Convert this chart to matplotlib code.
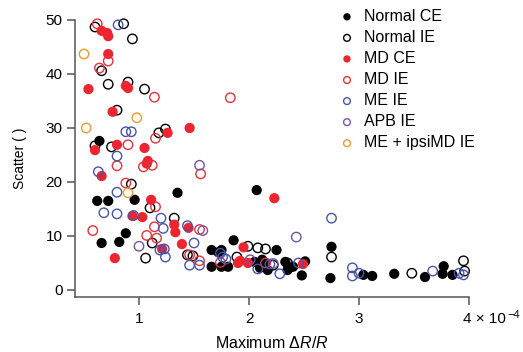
import numpy as np
import matplotlib
matplotlib.use('Agg')
import matplotlib.pyplot as plt
from matplotlib.transforms import blended_transform_factory, offset_copy

plt.rcParams['font.family'] = ['Liberation Sans', 'DejaVu Sans']
plt.rcParams['mathtext.fontset'] = 'custom'
plt.rcParams['mathtext.rm'] = 'Liberation Sans'
plt.rcParams['mathtext.it'] = 'Liberation Sans:italic'
plt.rcParams['font.size'] = 11

# data (x in units of 1e-4)
normal_ce_x = [0.64, 0.62, 0.72, 0.96, 1.35, 0.88, 0.66, 0.82, 2.07, 1.86, 2.25, 1.66, 1.72, 1.75,
               1.66, 1.75, 1.81, 2.05, 2.12, 2.15, 2.17, 2.10, 2.33, 2.35, 2.40, 2.48, 2.51,
               2.75, 2.74, 3.04, 3.12, 3.32, 3.60, 3.77, 3.76, 3.85]
normal_ce_y = [27.6, 16.5, 16.5, 16.7, 18.0, 10.5, 8.7, 8.9, 18.5, 9.2, 7.4, 7.4, 7.0, 7.4,
               4.3, 4.3, 4.3, 5.2, 5.6, 5.0, 3.7, 4.1, 5.2, 3.7, 4.3, 2.7, 5.3,
               8.0, 2.2, 2.8, 2.6, 3.0, 2.4, 4.4, 3.0, 2.8]

normal_ie_x = [0.60, 0.86, 0.94, 0.66, 0.72, 0.90, 1.05, 0.80, 1.18, 1.24, 0.60, 0.75, 0.93,
               1.10, 1.32, 1.12, 1.06, 1.44, 1.49, 1.99, 2.08, 2.15, 1.89, 2.22, 2.35, 2.75,
               3.48, 3.95, 3.96]
normal_ie_y = [48.7, 49.3, 46.5, 40.6, 38.1, 38.5, 37.2, 33.3, 29.1, 29.8, 26.7, 26.5, 19.6,
               15.2, 13.3, 8.7, 5.9, 6.5, 6.3, 8.1, 7.8, 7.6, 6.1, 4.6, 5.0, 6.1,
               3.1, 5.4, 3.5]

md_ce_x = [0.66, 0.71, 0.72, 0.72, 0.88, 0.90, 0.54, 0.76, 1.26, 1.46, 0.60, 0.80, 1.05, 1.08,
           1.07, 0.66, 1.11, 0.94, 1.03, 1.32, 1.33, 1.45, 1.39, 1.21, 0.78, 2.23, 1.95, 1.90,
           1.92, 1.99, 2.49]
md_ce_y = [48.0, 47.6, 47.0, 43.7, 37.8, 37.4, 37.2, 33.0, 29.1, 30.0, 25.9, 26.9, 26.3, 23.9,
           23.4, 21.1, 16.7, 13.7, 13.5, 12.1, 10.7, 11.5, 8.5, 7.6, 5.9, 17.0, 7.9, 5.0,
           5.4, 5.0, 4.8]

md_ie_x = [0.62, 0.72, 0.64, 1.14, 1.83, 1.15, 0.90, 0.80, 1.04, 1.12, 1.56, 0.88, 1.15, 0.58,
           1.14, 1.55, 1.07, 1.16, 1.46, 1.55, 1.74, 2.15]
md_ie_y = [49.3, 42.4, 41.1, 35.7, 35.6, 28.1, 26.9, 23.0, 22.8, 23.1, 21.5, 19.8, 15.4, 11.0,
           11.7, 11.2, 10.1, 9.6, 6.5, 5.4, 5.1, 5.0]

me_ie_x = [0.81, 0.88, 0.93, 0.80, 0.63, 0.80, 0.68, 0.80, 0.95, 1.20, 1.22, 1.44, 1.50, 1.19,
           1.23, 1.24, 1.46, 1.55, 1.74, 1.76, 1.79, 2.08, 2.19, 2.28, 2.45, 2.75, 2.94,
           2.94, 3.00, 3.67, 3.91, 3.95]
me_ie_y = [49.1, 29.3, 29.3, 24.8, 21.9, 18.1, 14.3, 14.1, 13.8, 13.3, 11.4, 11.9, 8.7, 7.4,
           7.6, 6.1, 4.6, 4.6, 6.8, 6.1, 5.7, 3.9, 4.8, 3.0, 5.0, 13.3, 4.1,
           2.6, 3.1, 3.5, 3.1, 2.8]

apb_ie_x = [1.55, 1.00, 1.58, 2.43, 2.01, 2.22]
apb_ie_y = [23.1, 8.1, 11.0, 9.8, 5.6, 4.9]

ipsi_ie_x = [0.50, 0.52, 0.98, 0.90]
ipsi_ie_y = [43.7, 30.0, 31.9, 18.0]

series = [
    ('Normal CE', normal_ce_x, normal_ce_y, 'black', True),
    ('Normal IE', normal_ie_x, normal_ie_y, 'black', False),
    ('MD CE', md_ce_x, md_ce_y, '#ec2530', True),
    ('MD IE', md_ie_x, md_ie_y, '#e2323c', False),
    ('ME IE', me_ie_x, me_ie_y, '#4556aa', False),
    ('APB IE', apb_ie_x, apb_ie_y, '#7654a2', False),
    ('ME + ipsiMD IE', ipsi_ie_x, ipsi_ie_y, '#ee9a30', False),
]

fig = plt.figure(figsize=(5.23, 3.52), dpi=100)
ax = fig.add_axes([75 / 523, 1 - 297 / 352, (469 - 75) / 523, (297 - 20) / 352])

for label, xs, ys, col, filled in series:
    if filled:
        ax.scatter(xs, ys, s=54, color=col, edgecolors='none', label=label, clip_on=False, zorder=3)
    else:
        ax.scatter(xs, ys, s=46, facecolors='none', edgecolors=col, linewidths=1.0,
                   label=label, clip_on=False, zorder=3)

ax.set_xlim(0.418, 4.0)
ax.set_ylim(-1.3, 50)
for s in ['top', 'right']:
    ax.spines[s].set_visible(False)
for s in ['left', 'bottom']:
    ax.spines[s].set_color('#555555')
    ax.spines[s].set_linewidth(1.1)

ax.set_yticks([0, 10, 20, 30, 40, 50])
ax.set_xticks([1, 2, 3, 4])
ax.set_xticklabels(['1', '2', '3', ''])
ax.tick_params(axis='y', length=6, width=1.1, color='#555555', pad=3, labelsize=11)
ax.tick_params(axis='x', length=6, width=1.1, color='#555555', pad=5, labelsize=11)

# "4 x 10^-4" label at the last tick, built from two plain texts
trans = blended_transform_factory(ax.transData, ax.transAxes)
t4 = ax.text(4, 0, '4 × 10', transform=offset_copy(trans, fig=fig, x=-4, y=-10.5, units='points'),
             ha='left', va='top', fontsize=11)
fig.canvas.draw()
bb = t4.get_window_extent()
fig.text(bb.x1 / fig.bbox.width + 0.002, bb.y1 / fig.bbox.height + 0.004, '−4',
         ha='left', va='top', fontsize=8)

ax.set_ylabel('Scatter ( )', fontsize=10, labelpad=13)
ax.set_xlabel('Maximum Δ$\\mathit{R/R}$', fontsize=11.5, labelpad=6)

ax.legend(loc='upper left', bbox_to_anchor=(339 / 523, 1 - 9 / 352), bbox_transform=fig.transFigure,
          frameon=False, borderpad=0, borderaxespad=0, handlelength=1.0, handletextpad=0.55,
          labelspacing=0.38, markerscale=0.72, fontsize=11.5)

fig.savefig('out.png', dpi=100)
